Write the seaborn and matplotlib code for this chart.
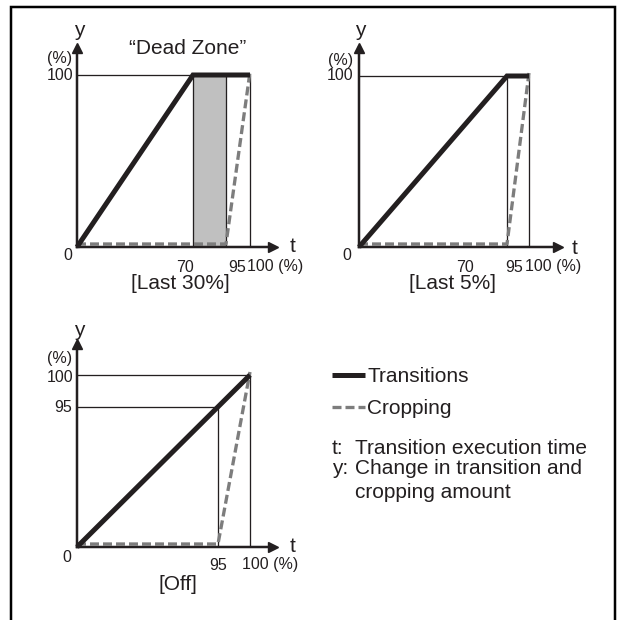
import numpy as np
import pandas as pd
import seaborn as sns
import matplotlib
matplotlib.use("Agg")
import matplotlib.pyplot as plt
from matplotlib.transforms import ScaledTranslation
from matplotlib.patches import Rectangle

# ---------------- data ----------------
t_trans_last30 = [0, 70, 100]
y_trans_last30 = [0, 100, 100]
t_crop_last30 = [0, 95, 100]
y_crop_last30 = [0, 0, 100]
dead_zone = [70, 95]

t_trans_last5 = [0, 95, 100]
y_trans_last5 = [0, 100, 100]
t_crop_last5 = [0, 95, 100]
y_crop_last5 = [0, 0, 100]

t_trans_off = [0, 100]
y_trans_off = [0, 100]
t_crop_off = [0, 95, 100]
y_crop_off = [0, 0, 100]

titles = ["[Last 30%]", "[Last 5%]", "[Off]"]
legend_labels = ["Transitions", "Cropping"]
notes = [("t:", "Transition execution time"),
         ("y:", "Change in transition and"),
         ("", "cropping amount")]

# ---------------- style ----------------
sns.set_theme(style="white")
plt.rcParams["font.family"] = ["Liberation Sans", "DejaVu Sans"]
plt.rcParams["lines.scale_dashes"] = False

W = H = 620
DPI = 100
fig = plt.figure(figsize=(W / DPI, H / DPI), dpi=DPI)
fig.patch.set_facecolor("white")

INK = "#231f20"
GRAY = "#7d7d7d"
FILL = "#c0c0c0"
PX = 0.72  # points per pixel
TICK_FS = 11.5


def P(x, y):
    return (x / W, 1 - y / H)


def make_funcs(d, p):
    d = [-1000.0] + list(d) + [1000.0]
    p = [-1000.0] + list(p) + [p[-1] + (1000.0 - d[-2])]
    d = np.array(d, float)
    p = np.array(p, float)

    def fwd(v):
        return np.interp(v, d, p)

    def inv(v):
        return np.interp(v, p, d)
    return fwd, inv


def make_axes(origin, xmap, ymap, xtip, ytip):
    ox, oy = origin
    fx, ix = make_funcs(*xmap)
    fy, iy = make_funcs(*ymap)
    w = xtip - 5
    h = ytip - 5
    ax = fig.add_axes([ox / W, (H - oy) / H, w / W, h / H])
    ax.set_xscale("function", functions=(fx, ix))
    ax.set_yscale("function", functions=(fy, iy))
    ax.set_xlim(0, float(ix(w)))
    ax.set_ylim(0, float(iy(h)))
    ax.set_facecolor("none")
    for s in ["top", "right"]:
        ax.spines[s].set_visible(False)
    for s in ["left", "bottom"]:
        ax.spines[s].set_linewidth(2.5 * PX)
        ax.spines[s].set_color(INK)
        ax.spines[s].set_zorder(4)
    ax.set_xticks([])
    ax.set_yticks([])
    ax.plot(1, 0, marker=">", ms=10 * PX, color=INK, transform=ax.transAxes,
            clip_on=False, zorder=5)
    ax.plot(0, 1, marker="^", ms=10 * PX, color=INK, transform=ax.transAxes,
            clip_on=False, zorder=5)
    return ax


def draw_series(ax, tt, yt, tc, yc):
    df_c = pd.DataFrame({"t": tc, "y": yc})
    sns.lineplot(data=df_c, x="t", y="y", ax=ax, color=GRAY, lw=3.3 * PX,
                 linestyle=(0, (9 * PX, 4 * PX)), estimator=None, sort=False,
                 zorder=3)
    lc = ax.lines[-1]
    lc.set_transform(ax.transData + ScaledTranslation(0, 3 / DPI, fig.dpi_scale_trans))
    lc.set_clip_on(False)
    df_t = pd.DataFrame({"t": tt, "y": yt})
    sns.lineplot(data=df_t, x="t", y="y", ax=ax, color=INK, lw=5 * PX,
                 estimator=None, sort=False, zorder=6)
    lt = ax.lines[-1]
    lt.set_clip_on(False)
    lt.set_solid_joinstyle("miter")
    lt.set_solid_capstyle("butt")
    return lt, lc


def lab(ax, s, x, y, dx, dy, ha="center", size=TICK_FS):
    ax.annotate(s, xy=(x, y), xycoords="data", xytext=(dx, dy),
                textcoords="offset pixels", ha=ha, va="center",
                fontsize=size, color=INK, annotation_clip=False)


def ftext(s, x, y, ha="center", size=TICK_FS):
    fig.text(*P(x, y), s, ha=ha, va="center", fontsize=size, color=INK)


thin = dict(color=INK, lw=1.3 * PX, zorder=2)

# ---------------- panel 1: Last 30% ----------------
ax1 = make_axes((77, 247), ([0, 70, 95, 100], [0, 116, 149, 173]),
                ([0, 100], [0, 172]), 201, 204)
ax1.fill_between(dead_zone, 0, 100, color=FILL, lw=0, zorder=1)
ax1.vlines([dead_zone[0], dead_zone[1], 100], 0, 100, **thin)
ax1.hlines([100], 0, 100, **thin)
draw_series(ax1, t_trans_last30, y_trans_last30, t_crop_last30, y_crop_last30)
lab(ax1, "70", 70, 0, -8, -20)
lab(ax1, "95", 95, 0, 11, -20)
lab(ax1, "100 (%)", 100, 0, -3, -20, ha="left")
lab(ax1, "0", 0, 0, -9, -9)
lab(ax1, "100", 0, 100, -4, 0, ha="right")
ftext("(%)", 72, 59, ha="right")
ftext("y", 79, 31, size=15)
ftext("t", 293, 247, size=15)
ftext("\u201cDead Zone\u201d", 188, 48, size=15)
ftext(titles[0], 180, 283, size=15)

# ---------------- panel 2: Last 5% ----------------
ax2 = make_axes((359, 247), ([0, 95, 100], [0, 148, 170]),
                ([0, 100], [0, 171]), 204, 204)
ax2.vlines([95, 100], 0, 100, **thin)
ax2.hlines([100], 0, 100, **thin)
draw_series(ax2, t_trans_last5, y_trans_last5, t_crop_last5, y_crop_last5)
lab(ax2, "70", 70, 0, -3, -20)
lab(ax2, "95", 95, 0, 7, -20)
lab(ax2, "100 (%)", 100, 0, -4, -20, ha="left")
lab(ax2, "0", 0, 0, -12, -8)
lab(ax2, "100", 0, 100, -6, 0, ha="right")
ftext("(%)", 353, 60, ha="right")
ftext("y", 360, 31, size=15)
ftext("t", 575, 248, size=15)
ftext(titles[1], 453, 283, size=15)

# ---------------- panel 3: Off ----------------
ax3 = make_axes((77, 547), ([0, 95, 100], [0, 141, 173]),
                ([0, 95, 100], [0, 140, 172]), 201, 208)
ax3.vlines([95, 100], 0, [95, 100], **thin)
ax3.hlines([95, 100], 0, [95, 100], **thin)
h_trans, h_crop = draw_series(ax3, t_trans_off, y_trans_off, t_crop_off, y_crop_off)
lab(ax3, "95", 95, 0, 0, -18)
lab(ax3, "100 (%)", 100, 0, -8, -18, ha="left")
lab(ax3, "0", 0, 0, -10, -10)
lab(ax3, "100", 0, 100, -4, -2, ha="right")
lab(ax3, "95", 0, 95, -5, -1, ha="right")
ftext("(%)", 72, 359, ha="right")
ftext("y", 79, 331, size=15)
ftext("t", 293, 546, size=15)
ftext(titles[2], 178, 585, size=15)

# ---------------- legend and notes ----------------
fs = 15
em = fs / PX
fig.legend([h_trans, h_crop], legend_labels, loc="upper left",
           bbox_to_anchor=P(332, 367), frameon=False, fontsize=fs,
           handlelength=33 / em, handletextpad=2 / em, borderpad=0,
           borderaxespad=0, labelspacing=0.62, labelcolor=INK)
for (a, b), yy in zip(notes, [448, 469, 492]):
    if a:
        ftext(a, 332, yy, ha="left", size=fs)
    ftext(b, 355, yy, ha="left", size=fs)

# ---------------- outer frame ----------------
fig.add_artist(Rectangle(P(11, 640), (615 - 11) / W, (640 - 7) / H,
                         transform=fig.transFigure, fill=False,
                         lw=2.5 * PX, edgecolor="black", clip_on=False))

fig.savefig("out.png", dpi=DPI)
